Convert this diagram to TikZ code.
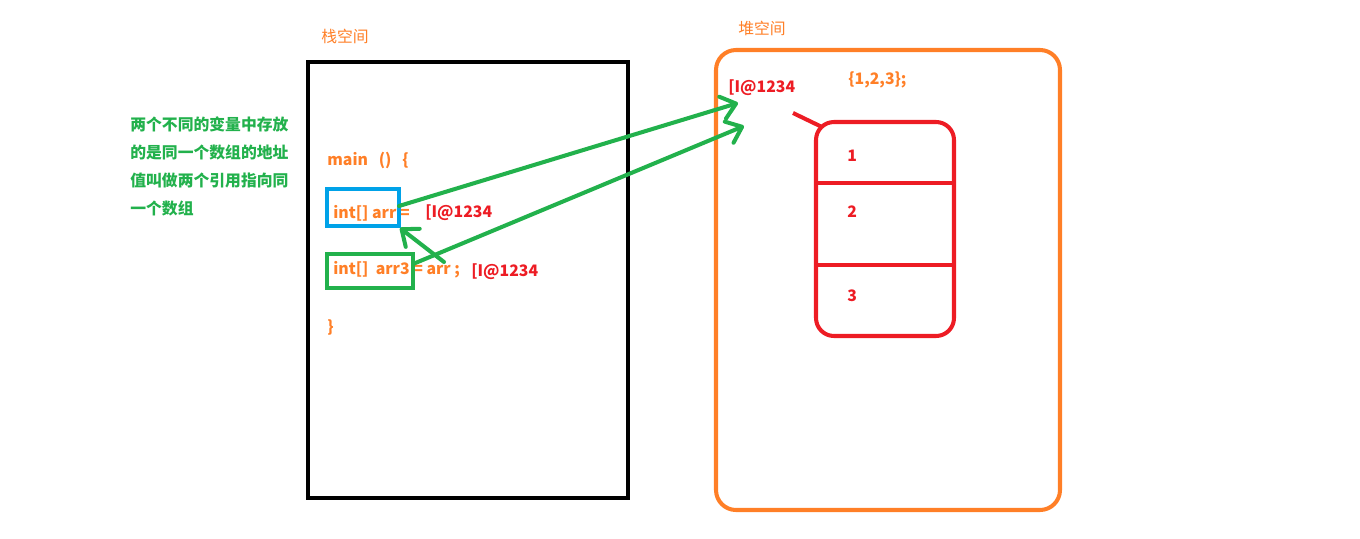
\documentclass[tikz,border=0pt]{standalone}
\usepackage{fontspec}
\setmainfont{Noto Sans CJK SC}
\usetikzlibrary{arrows.meta,positioning,calc}
\definecolor{paintgreen}{RGB}{34,177,76}
\definecolor{paintorange}{RGB}{255,127,39}
\definecolor{paintred}{RGB}{237,28,36}
\definecolor{paintblue}{RGB}{0,162,232}
\tikzset{
  txt/.style={anchor=west, inner sep=0pt, font=\fontsize{9}{16}\selectfont\bfseries},
  codetxt/.style={txt, text=paintorange},
  addrtxt/.style={txt, text=paintred},
  areatitle/.style={anchor=west, inner sep=0pt, text=paintorange, font=\fontsize{9}{16}\selectfont},
  frame/.style={line width=2.3pt},
  ref/.style={draw=paintgreen, line width=2.3pt, line cap=round,
    -{Straight Barb[length=8pt,width=13pt,round]}}
}
\begin{document}
\begin{tikzpicture}[x=0.02cm, y=-0.02cm]
  \useasboundingbox (0,0) rectangle (1360,538);

  % stack space
  \draw [frame, draw=black] (308,62) rectangle (628,498);
  \node (stacktitle) [areatitle] at (321,36) {栈空间};

  % heap space
  \draw [frame, draw=paintorange, rounded corners=0.4cm] (716,50) rectangle (1060,510);
  \node (heaptitle) [areatitle] at (738,28) {堆空间};
  \node (heapaddr) [addrtxt] at (728,88) {[I@1234};
  \node (heapinit) [codetxt] at (848,80) {\{1,2,3\};};

  % the array
  \draw [frame, draw=paintred, rounded corners=0.36cm] (816,122) rectangle (954,336);
  \draw [frame, draw=paintred] (814,183) -- (956,183);
  \draw [frame, draw=paintred] (816,265) -- (954,265);
  \node (cellone) [addrtxt] at (847,156) {1};
  \node (celltwo) [addrtxt] at (847,212) {2};
  \node (cellthree) [addrtxt] at (847,296) {3};
  \coordinate (addrtail) at (793,113);
  \coordinate (arrtop) at (822,127);
  \draw [frame, draw=paintred] (addrtail) -- (arrtop);

  % code in main
  \node (mainhead) [codetxt] at (327,160) {main\ \ \ ()\ \ \ \{};
  \node (arrdecl) [codetxt] at (333,213) {int[] arr =};
  \node (arraddr) [addrtxt] at (425,213) {[I@1234};
  \node (arrthreedecl) [codetxt] at (333,270) {int[]\ \ arr3 = arr ;};
  \node (arrthreeaddr) [addrtxt] at (471,272) {[I@1234};
  \node (mainend) [codetxt] at (327,327) {\}};

  \draw [frame, draw=paintblue] (327,189) rectangle (399,226);
  \draw [frame, draw=paintgreen] (327,254) rectangle (413,288);

  % references
  \coordinate (arrout) at (399,206);
  \coordinate (arrthreeout) at (413,264);
  \coordinate (tipone) at (738,103);
  \coordinate (tiptwo) at (744,126);
  \coordinate (assignfrom) at (444,262);
  \coordinate (assignto) at (400,228);
  \draw [ref] (arrout) -- (tipone);
  \draw [ref] (arrthreeout) -- (tiptwo);
  \draw [ref] (assignfrom) -- (assignto);

  % note
  \node (note) [txt, text=paintgreen, anchor=north west, align=left] at (130,116)
    {两个不同的变量中存放\\的是同一个数组的地址\\值叫做两个引用指向同\\一个数组};
\end{tikzpicture}
\end{document}
